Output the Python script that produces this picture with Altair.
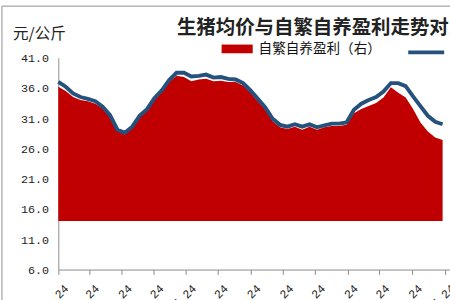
import altair as alt
import pandas as pd

# ---- data ----
start_date = "2020-02-24"
weeks = 53
price = [37.0, 36.2, 35.1, 34.5, 34.2, 33.8, 32.9, 31.5, 29.1, 28.6,
         29.6, 31.4, 32.5, 34.3, 35.6, 37.3, 38.5, 38.5, 37.9, 38.0,
         38.2, 37.7, 37.8, 37.5, 37.4, 36.8, 35.6, 34.2, 32.8, 30.9,
         29.9, 29.6, 30.0, 29.6, 30.0, 29.5, 29.8, 30.1, 30.1, 30.3,
         32.4, 33.4, 34.0, 34.5, 35.4, 36.8, 36.8, 36.3, 34.6, 33.0,
         31.4, 30.4, 30.0]
profit = [36.2, 35.5, 34.5, 34.0, 33.8, 33.4, 32.6, 31.3, 28.9, 28.3,
          29.4, 31.2, 32.3, 34.1, 35.4, 37.0, 38.0, 37.8, 37.1, 37.4,
          37.5, 37.1, 37.2, 37.0, 37.0, 36.4, 35.2, 33.8, 32.4, 30.5,
          29.5, 29.2, 29.6, 29.1, 29.6, 29.1, 29.5, 29.7, 29.7, 29.9,
          31.8, 32.5, 33.0, 33.5, 34.4, 36.1, 35.2, 34.4, 32.5, 30.3,
          28.8, 27.8, 27.4]
profit_base = 14.0
tick_labels = ["2020-02-24", "2020-03-24", "2020-04-24", "2020-05-24",
               "2020-06-24", "2020-07-24", "2020-08-24", "2020-09-24",
               "2020-10-24", "2020-11-24", "2020-12-24", "2021-01-24",
               "2021-02-24"]
y_ticks = [6, 11, 16, 21, 26, 31, 36, 41]
area_name = "自繁自养盈利（右）"
line_name = "生猪均价（左）"
title_text = "生猪均价与自繁自养盈利走势对比"
unit_text = "元/公斤"

dates = pd.date_range(start_date, periods=weeks, freq="7D").strftime("%Y-%m-%d").tolist()
df = pd.DataFrame({"date": dates, "price": price, "profit": profit,
                   "s": area_name, "n": line_name})

def dt(s):
    y, m, d = (int(p) for p in s.split("-"))
    return alt.DateTime(year=y, month=m, date=d, utc=True)

CJK = "Noto Sans CJK SC"
MONO = "Liberation Mono"
AXIS_GRAY = "#8a8a8a"

xscale = alt.Scale(type="utc", domain=[dt("2020-02-24"), dt("2021-03-01")])
yscale = alt.Scale(domain=[6, 41], nice=False, zero=False)

xaxis = alt.Axis(values=[dt(t) for t in tick_labels], format="%Y-%m-%d",
                 formatType="utc", labelAngle=-45, labelAlign="right",
                 labelBaseline="middle", labelOffset=8, labelPadding=12,
                 labelFont=MONO, labelFontSize=12, labelColor="#222",
                 tickSize=5, tickColor=AXIS_GRAY, domainColor=AXIS_GRAY,
                 grid=False, title=None, labelOverlap=False, labelBound=False)
yaxis = alt.Axis(values=y_ticks, format=".1f", labelFont=MONO, labelFontSize=12,
                 labelColor="#222", labelPadding=10, ticks=False, grid=False,
                 labelOverlap=False, labelBound=False,
                 domainColor=AXIS_GRAY, title=unit_text, titleAngle=0,
                 titleX=-20, titleY=-25, titleAlign="center",
                 titleBaseline="middle", titleFont=CJK, titleFontSize=16,
                 titleFontWeight="normal", titleColor="#222")

xenc = alt.X("date:T", scale=xscale, axis=xaxis)

base = alt.Chart(df)

area = base.mark_area(interpolate="linear").encode(
    x=xenc,
    y=alt.Y("profit:Q", scale=yscale, axis=yaxis),
    y2=alt.datum(profit_base),
    fill=alt.Fill("s:N", scale=alt.Scale(domain=[area_name], range=["#C00000"]),
                  legend=alt.Legend(orient="none", legendX=168, legendY=-25,
                                    title=None, symbolType="M-1,-0.28H1V0.28H-1Z",
                                    symbolSize=1024, symbolStrokeWidth=0,
                                    symbolOpacity=1, labelFont=CJK,
                                    labelFontSize=14, labelColor="#111",
                                    labelOffset=6, padding=0)),
)

line = base.mark_line(strokeWidth=4, interpolate="linear").encode(
    x=xenc,
    y=alt.Y("price:Q", scale=yscale, axis=yaxis),
    stroke=alt.Stroke("n:N", scale=alt.Scale(domain=[line_name], range=["#25527C"]),
                      legend=alt.Legend(orient="none", legendX=358, legendY=-26,
                                        title=None, symbolType="stroke",
                                        symbolSize=1369, symbolStrokeWidth=4,
                                        labelFont=CJK, labelFontSize=14,
                                        labelColor="#111", labelOffset=6,
                                        padding=0)),
)

deco = alt.Chart(pd.DataFrame({"k": [0]}))
frame = deco.mark_rect(fillOpacity=0, stroke="#8c8c8c", strokeWidth=1).encode(
    x=alt.value(-58), y=alt.value(-53), x2=alt.value(520), y2=alt.value(400))
title = deco.mark_text(align="left", baseline="middle", font=CJK, fontSize=20,
                       fontWeight="bold", color="#222").encode(
    x=alt.value(122), y=alt.value(-30), text=alt.value(title_text))

chart = alt.layer(frame, area, line, title).properties(
    width=403, height=218,
    autosize=alt.AutoSizeParams(type="none"),
    padding={"left": 60, "top": 55, "right": 0, "bottom": 27},
).configure_view(stroke=None)

chart.save("out.html", embed_options={"renderer": "svg", "actions": False})
